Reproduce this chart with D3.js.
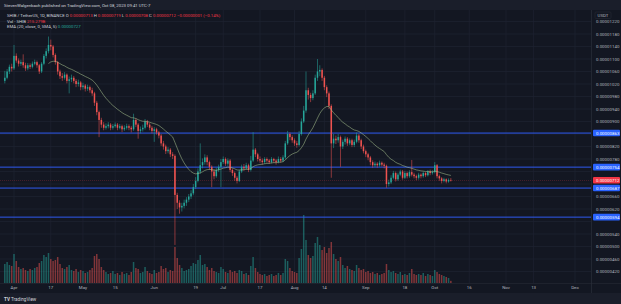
<!DOCTYPE html>
<html><head><meta charset="utf-8">
<script src="https://cdn.jsdelivr.net/npm/d3@7"></script>
<style>html,body{margin:0;padding:0;background:#131722;overflow:hidden}</style>
</head><body><svg id="c" width="621" height="304"></svg>
<script>
// Prices in units of 1e-8 USDT, one daily candle per day from startDate
const startDate = "2023-03-28";
const open = [1030,1040,1060,1075,1070,1110,1095,1085,1090,1080,
1070,1080,1075,1085,1090,1080,1060,1085,1110,1125,
1145,1140,1113,1090,1060,1045,1040,1050,1030,1035,
1040,1030,1020,1025,1010,1015,1005,1010,1000,990,
960,930,905,890,880,885,890,880,885,890,
880,885,875,880,885,880,875,905,890,870,
875,880,900,890,880,870,875,865,855,830,
820,805,810,795,790,665,640,625,630,640,
650,660,670,690,710,740,760,770,785,770,
755,740,725,745,755,770,780,765,775,745,
735,720,710,740,755,750,760,745,775,810,
795,780,775,770,780,775,770,780,775,770,
780,775,785,830,860,850,840,830,825,860,
900,935,1000,985,975,990,1040,1060,1065,1040,
1010,990,950,830,845,840,850,820,835,845,
830,840,825,835,855,840,820,805,795,785,
770,760,765,760,768,762,758,700,705,720,
735,715,730,740,720,735,725,738,730,725,
720,730,725,735,728,740,735,738,760,725,
718,710,715,708,713];
const close = [1040,1060,1075,1070,1110,1095,1085,1090,1080,1070,
1080,1075,1085,1090,1080,1060,1085,1110,1125,1145,
1140,1113,1090,1060,1045,1040,1050,1030,1035,1040,
1030,1020,1025,1010,1015,1005,1010,1000,990,960,
930,905,890,880,885,890,880,885,890,880,
885,875,880,885,880,875,905,890,870,875,
880,900,890,880,870,875,865,855,830,820,
805,810,795,790,665,640,625,630,640,650,
660,670,690,710,740,760,770,785,770,755,
740,725,745,755,770,780,765,775,745,735,
720,710,740,755,750,760,745,775,810,795,
780,775,770,780,775,770,780,775,770,780,
775,785,830,860,850,840,830,825,860,900,
935,1000,985,975,990,1040,1060,1065,1040,1010,
990,950,830,845,840,850,820,835,845,830,
840,825,835,855,840,820,805,795,785,770,
760,765,760,768,762,758,700,705,720,735,
715,730,740,720,735,725,738,730,725,720,
730,725,735,728,740,735,738,760,725,718,
710,715,708,713,712];
const high = [1062,1068,1082,1085,1145,1118,1102,1098,1115,1088,
1087,1086,1092,1098,1095,1084,1090,1116,1134,1172,
1162,1145,1118,1094,1066,1055,1058,1054,1044,1050,
1046,1036,1034,1030,1024,1020,1018,1015,1008,995,
966,935,912,898,894,898,895,892,897,895,
892,890,888,893,891,886,925,910,895,884,
890,908,905,896,886,882,880,870,860,838,
826,818,815,802,795,672,648,640,650,658,
668,680,700,722,750,830,782,795,792,775,
760,748,752,762,780,788,785,782,780,750,
740,726,746,762,764,768,765,790,866,815,
800,788,782,786,785,780,786,784,780,788,
786,792,838,870,865,856,846,838,870,910,
950,1060,1008,992,1000,1050,1100,1080,1070,1046,
1016,996,955,860,855,860,855,842,852,850,
846,845,842,865,860,845,826,810,800,790,
776,772,770,775,772,768,762,714,728,742,
740,736,746,745,742,740,744,777,736,730,
736,734,740,738,745,746,744,770,764,730,
722,720,718,718,719];
const low = [1022,1035,1052,1060,1065,1088,1076,1078,1072,1062,
1064,1068,1070,1080,1072,1052,1055,1080,1102,1118,
1128,1105,1082,1050,1036,1030,1034,1022,990,1026,
1022,1010,1012,1000,1002,996,998,992,982,950,
920,850,880,872,874,878,872,874,880,872,
875,866,870,874,872,865,870,882,845,862,
868,874,882,872,862,835,858,846,822,810,
796,798,786,780,505,620,605,612,622,630,
642,652,664,684,705,732,750,762,760,745,
690,715,720,738,690,764,758,758,738,726,
710,702,706,735,742,745,738,740,770,786,
772,768,762,765,768,764,766,768,762,766,
768,770,780,825,840,832,822,816,820,855,
895,928,970,962,968,985,1030,1045,1030,1000,
978,940,720,815,828,832,755,812,826,822,
824,818,818,830,832,812,798,786,776,760,
752,754,752,755,756,750,688,692,700,715,
708,710,725,714,716,718,720,724,718,712,
714,718,720,722,724,728,730,734,718,710,
702,705,702,704,708];
// Volume in billions SHIB
const volume = [1900,2100,1800,1700,2900,2200,1600,1400,1500,1300,
1200,1400,1300,1500,1600,2000,2200,2800,2600,3000,
2400,2200,2300,2600,1900,1500,1400,1600,1800,1300,
1200,1400,1100,1300,1200,1000,1100,1300,1500,2700,
2900,2400,1600,1300,1100,900,1000,1200,900,1000,
800,1100,900,1000,800,1100,2100,1500,1400,1000,
1100,1600,1200,1000,900,1300,1000,1100,1700,1400,
1500,1100,1300,1200,3600,2500,1800,1500,1200,1300,
1400,1700,2000,1900,2300,2800,1800,1900,1600,1300,
1500,1200,1100,1000,1600,1400,1100,1000,1300,1100,
1200,1000,1300,1200,900,1000,800,1700,2600,1500,
1100,900,800,900,700,800,900,700,800,1000,
800,1000,2400,2200,1500,1200,1100,1000,2500,3400,
6800,4300,2800,2500,2700,4000,4600,3800,3300,3600,
3000,3500,4100,2900,2400,2200,2600,1800,1500,1700,
1400,1300,1200,1800,1500,1300,1400,1100,1200,1000,
1100,900,1000,800,900,1000,1900,1300,1100,1200,
1000,900,1100,800,900,800,1000,1400,900,800,
900,800,1000,700,900,800,700,1300,1100,900,
800,700,600,500,215];
const xTickLabels = ["Apr","17","May","15","Jun","19","Jul","17","Aug","14","Sep","18","Oct","16","Nov","13","Dec"];
const xTickDates = ["2023-04-01","2023-04-17","2023-05-01","2023-05-15","2023-06-01","2023-06-19","2023-07-01","2023-07-17","2023-08-01","2023-08-14","2023-09-01","2023-09-18","2023-10-01","2023-10-16","2023-11-01","2023-11-13","2023-12-01"];
const yTicks = [420,460,500,540,580,620,660,700,740,780,820,860,900,940,980,1020,1060,1100,1140,1180,1220];
const levels = [863,754,687,594];
const lastPrice = 712;
const lastVolume = "215.279B";

const svg = d3.select("#c");
const W = 621, H = 304, plotR = 591, paneBottom = 283;
const parse = d3.utcParse("%Y-%m-%d");
const t0 = parse(startDate);
const dates = close.map((_, i) => d3.utcDay.offset(t0, i));
const x = d3.scaleUtc().domain([parse("2023-04-01"), parse("2023-12-01")]).range([14, 575]);
const y = d3.scaleLinear().domain([420, 1220]).range([271.5, 21.5]);
const yv = d3.scaleLinear().domain([0, 7000]).range([paneBottom, 213]);
const fmt = v => (v / 1e8).toFixed(8);
const FONT = "Roboto, 'DejaVu Sans', sans-serif";

svg.append("rect").attr("width", W).attr("height", H).attr("fill", "#131722");
// header
svg.append("rect").attr("width", W).attr("height", 10).attr("fill", "#1a1e2a");
svg.append("text").attr("x", 4).attr("y", 6.6).attr("font-size", 4.3).attr("font-family", FONT)
  .attr("fill", "#d1d4dc").text("StevenWalgenbach published on TradingView.com, Oct 08, 2023 09:41 UTC-7");

// grid
const g = svg.append("g");
g.selectAll(".vg").data(xTickDates).join("line")
  .attr("x1", d => x(parse(d))).attr("x2", d => x(parse(d)))
  .attr("y1", 10).attr("y2", paneBottom).attr("stroke", "#1e2230").attr("stroke-width", 0.7);
g.selectAll(".hg").data(yTicks).join("line")
  .attr("x1", 0).attr("x2", plotR).attr("y1", d => y(d)).attr("y2", d => y(d))
  .attr("stroke", "#1e2230").attr("stroke-width", 0.7);

// volume
const bw = 1.5;
svg.append("g").selectAll("rect").data(volume).join("rect")
  .attr("x", (d, i) => x(dates[i]) - bw / 2).attr("width", bw)
  .attr("y", d => yv(d)).attr("height", d => paneBottom - yv(d))
  .attr("fill", (d, i) => close[i] >= open[i] ? "rgba(38,166,154,0.5)" : "rgba(239,83,80,0.5)");

// level lines
svg.append("g").selectAll("line").data(levels).join("line")
  .attr("x1", 0).attr("x2", plotR).attr("y1", d => y(d)).attr("y2", d => y(d))
  .attr("stroke", "#2f5af0").attr("stroke-width", 1);

// last price line
svg.append("line").attr("x1", 0).attr("x2", plotR).attr("y1", y(lastPrice)).attr("y2", y(lastPrice))
  .attr("stroke", "#f23645").attr("stroke-width", 0.5).attr("stroke-dasharray", "1,1").attr("opacity", 0.6);

// candles
const cg = svg.append("g");
cg.selectAll("line").data(close).join("line")
  .attr("x1", (d, i) => x(dates[i])).attr("x2", (d, i) => x(dates[i]))
  .attr("y1", (d, i) => y(high[i])).attr("y2", (d, i) => y(low[i]))
  .attr("stroke", (d, i) => d >= open[i] ? "#26a69a" : "#ef5350").attr("stroke-width", 0.55);
cg.selectAll("rect").data(close).join("rect")
  .attr("x", (d, i) => x(dates[i]) - bw / 2).attr("width", bw)
  .attr("y", (d, i) => y(Math.max(d, open[i])))
  .attr("height", (d, i) => Math.max(0.6, Math.abs(y(d) - y(open[i]))))
  .attr("fill", (d, i) => d >= open[i] ? "#26a69a" : "#ef5350");

// EMA 20 of closes
const period = 20, k = 2 / (period + 1);
const ema = [];
let e = d3.mean(close.slice(0, period));
close.forEach((c, i) => {
  if (i < period - 1) return;
  if (i > period - 1) e = c * k + e * (1 - k);
  ema.push([dates[i], e]);
});
svg.append("path").datum(ema)
  .attr("d", d3.line().x(d => x(d[0])).y(d => y(d[1])))
  .attr("fill", "none").attr("stroke", "#a9c48f").attr("stroke-width", 0.6).attr("opacity", 0.9);

// legend
const lg = svg.append("g").attr("font-family", FONT).attr("font-size", 4.3);
const l1 = lg.append("text").attr("x", 7).attr("y", 17).attr("fill", "#d1d4dc");
l1.append("tspan").text("SHIB / TetherUS, 1D, BINANCE  ");
[["O", 713], ["H", 719], ["L", 708], ["C", 712]].forEach(([n, v]) => {
  l1.append("tspan").attr("fill", "#d1d4dc").text(n + " ");
  l1.append("tspan").attr("fill", "#f23645").text(fmt(v) + "  ");
});
l1.append("tspan").attr("fill", "#f23645").text("−0.00000001 (−0.14%)");
const l2 = lg.append("text").attr("x", 7).attr("y", 22.5).attr("fill", "#d1d4dc");
l2.append("tspan").text("Vol · SHIB  ");
l2.append("tspan").attr("fill", "#f23645").text(lastVolume);
const l3 = lg.append("text").attr("x", 7).attr("y", 28).attr("fill", "#d1d4dc");
l3.append("tspan").text("EMA (20, close, 0, SMA, 5)  ");
l3.append("tspan").attr("fill", "#26a69a").text(fmt(Math.round(ema[ema.length - 1][1])));

// right axis
svg.append("line").attr("x1", plotR + 0.5).attr("x2", plotR + 0.5).attr("y1", 10).attr("y2", 293)
  .attr("stroke", "#2a2e39").attr("stroke-width", 0.7);
const ag = svg.append("g").attr("font-family", FONT).attr("font-size", 4.4);
ag.append("rect").attr("x", 595).attr("y", 12).attr("width", 16).attr("height", 6.5).attr("rx", 1)
  .attr("fill", "#131722").attr("stroke", "#2a2e39").attr("stroke-width", 0.5);
ag.append("text").attr("x", 603).attr("y", 16.8).attr("text-anchor", "middle").attr("fill", "#b2b5be").text("USDT");
const marks = levels.concat([lastPrice]);
const visible = yTicks.filter(t => marks.every(m => Math.abs(y(t) - y(m)) > 6.5));
ag.selectAll(".yl").data(visible).join("text")
  .attr("x", 596).attr("y", d => y(d) + 1.5).attr("fill", "#b2b5be").text(fmt);
const boxes = levels.map(v => ({ v, c: "#2962ff" })).concat([{ v: lastPrice, c: "#f23645" }]);
boxes.forEach(b => {
  ag.append("rect").attr("x", 593).attr("y", y(b.v) - 3.3).attr("width", 27).attr("height", 6.6).attr("rx", 1).attr("fill", b.c);
  ag.append("text").attr("x", 596).attr("y", y(b.v) + 1.5).attr("fill", "#ffffff").text(fmt(b.v));
});

// x axis
svg.append("line").attr("x1", 0).attr("x2", W).attr("y1", paneBottom + 0.5).attr("y2", paneBottom + 0.5)
  .attr("stroke", "#2a2e39").attr("stroke-width", 0.5);
svg.append("g").attr("font-family", FONT).attr("font-size", 4.4).selectAll("text").data(xTickDates).join("text")
  .attr("x", d => x(parse(d))).attr("y", 289).attr("text-anchor", "middle").attr("fill", "#b2b5be")
  .text((d, i) => xTickLabels[i]);

// footer
svg.append("rect").attr("y", 293).attr("width", W).attr("height", 11).attr("fill", "#1a1e2a");
const ft = svg.append("text").attr("x", 4).attr("y", 300.5).attr("font-family", FONT).attr("font-size", 4.6).attr("fill", "#d1d4dc");
ft.append("tspan").attr("font-weight", "bold").text("TV ");
ft.append("tspan").text("TradingView");
</script></body></html>
